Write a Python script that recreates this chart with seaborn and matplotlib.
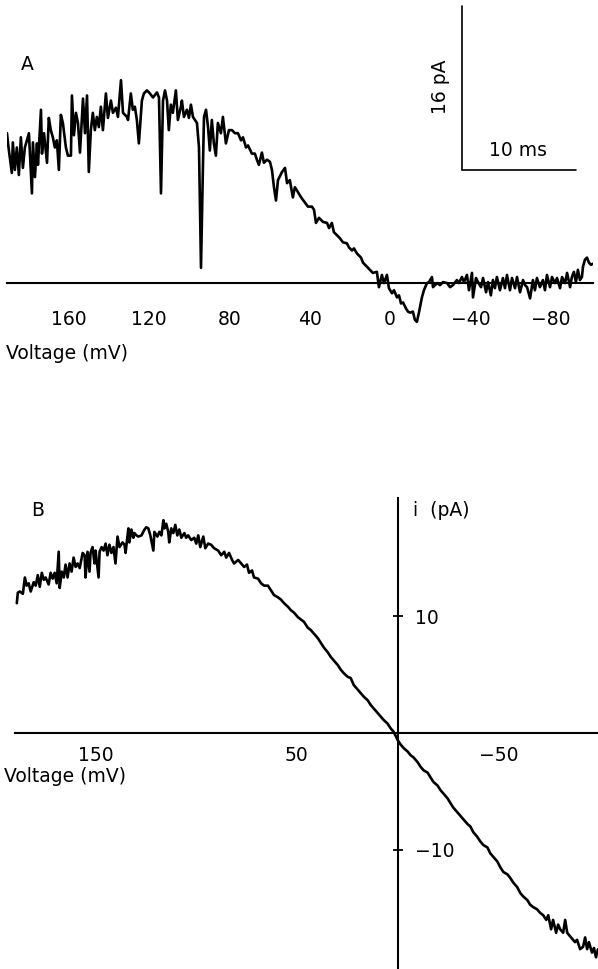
import matplotlib
matplotlib.use("Agg")
import matplotlib.pyplot as plt
import numpy as np
import seaborn as sns
from matplotlib.lines import Line2D

# ---- panel A: current trace during voltage ramp (mV, pA) ----
volt_a = [190.5, 190.0, 188.1, 187.6, 186.6, 185.6, 184.6, 183.6, 182.6, 181.6,
          180.6, 179.6, 178.1, 177.6, 176.6, 175.6, 175.1, 173.6, 173.1, 172.1,
          170.6, 169.7, 168.7, 167.7, 166.7, 165.7, 164.7, 163.7, 162.7, 161.2,
          160.2, 158.7, 158.2, 157.2, 156.2, 155.2, 154.2, 152.7, 151.7, 150.7,
          149.8, 148.8, 147.8, 146.8, 145.8, 144.8, 143.8, 142.8, 141.3, 140.3,
          138.8, 137.8, 136.3, 135.3, 133.8, 132.8, 130.8, 130.3, 128.9, 127.9,
          126.9, 125.9, 124.9, 123.4, 122.4, 120.9, 119.4, 117.9, 115.9, 114.9,
          113.9, 112.9, 111.9, 110.9, 110.0, 109.0, 108.0, 106.5, 105.5, 104.0,
          103.5, 102.5, 101.0, 100.0, 99.0, 98.0, 96.0, 95.0, 94.0, 93.0,
          92.5, 91.5, 90.5, 89.6, 88.6, 87.6, 86.6, 85.6, 84.1, 83.1,
          81.6, 80.1, 78.6, 77.1, 75.6, 74.1, 73.1, 71.6, 70.6, 68.7,
          67.2, 66.2, 65.2, 63.7, 62.7, 61.2, 59.7, 58.7, 57.7, 56.7,
          55.7, 53.7, 52.2, 51.2, 49.8, 48.3, 47.3, 46.3, 44.8, 43.8,
          42.3, 40.8, 38.8, 37.8, 36.8, 35.3, 33.3, 31.3, 30.3, 28.9,
          27.9, 26.4, 24.9, 23.4, 21.4, 20.4, 18.9, 17.9, 16.4, 15.4,
          14.4, 13.4, 11.4, 10.0, 8.5, 6.5, 5.5, 4.0, 3.0, 1.5,
          0.5, -1.0, -2.0, -3.5, -4.5, -5.5, -6.5, -8.0, -9.0, -10.0,
          -11.4, -12.4, -13.4, -14.4, -15.9, -16.9, -18.4, -19.4, -20.9, -21.4,
          -23.4, -24.9, -26.4, -28.4, -29.9, -31.3, -33.3, -34.3, -35.8, -36.8,
          -38.3, -39.3, -40.8, -41.3, -42.8, -43.8, -45.3, -46.3, -47.8, -48.8,
          -50.2, -51.2, -52.2, -53.2, -54.7, -56.2, -57.2, -58.2, -59.7, -60.7,
          -62.2, -63.2, -64.7, -66.2, -67.2, -68.2, -69.7, -71.1, -72.1, -73.1,
          -74.6, -76.1, -77.1, -78.1, -79.6, -80.6, -82.1, -83.1, -84.6, -85.6,
          -87.1, -88.1, -89.6, -90.5, -91.5, -92.5, -93.5, -94.5, -95.5, -96.0,
          -97.0, -98.0, -99.0, -100.0, -101.0]
curr_a = [14.7, 13.7, 10.8, 13.8, 11.1, 13.3, 10.6, 14.3, 11.3, 13.3,
          14.0, 14.7, 8.8, 13.8, 10.4, 13.7, 11.6, 17.0, 12.7, 14.7,
          11.8, 16.2, 15.0, 14.3, 13.3, 14.0, 11.1, 16.5, 15.7, 13.3,
          12.5, 12.5, 18.4, 14.5, 16.7, 15.7, 12.8, 18.1, 14.7, 18.4,
          10.9, 15.0, 16.7, 15.0, 16.3, 15.3, 17.3, 15.0, 18.6, 16.2,
          17.9, 16.7, 17.2, 16.3, 19.9, 16.7, 16.3, 16.0, 18.6, 17.0,
          17.3, 16.0, 13.7, 17.9, 18.6, 18.9, 18.6, 18.2, 18.7, 18.2,
          8.8, 17.9, 18.9, 17.9, 15.0, 17.5, 16.7, 18.9, 16.0, 17.3,
          17.9, 16.3, 17.0, 16.2, 17.5, 16.3, 15.7, 13.3, 1.5, 11.8,
          16.3, 17.0, 15.3, 13.0, 16.0, 13.7, 12.5, 15.7, 14.7, 16.3,
          13.7, 15.0, 15.0, 14.7, 14.7, 14.0, 14.3, 13.3, 13.5, 12.7,
          12.7, 12.1, 11.6, 12.8, 11.8, 12.1, 11.9, 11.1, 9.4, 8.1,
          10.1, 10.9, 11.3, 9.8, 10.1, 8.4, 9.4, 9.1, 8.6, 8.3,
          7.9, 7.5, 7.5, 7.2, 5.9, 6.4, 6.0, 5.9, 5.4, 5.9,
          5.0, 4.7, 4.4, 4.0, 3.9, 3.5, 3.2, 3.4, 2.9, 2.7,
          2.5, 2.0, 1.6, 1.3, 1.0, 1.1, -0.4, 0.8, 0.0, 0.8,
          -0.5, -1.0, -0.7, -1.4, -1.2, -2.0, -1.9, -2.5, -2.8, -2.9,
          -2.8, -3.6, -3.8, -2.9, -1.4, -0.7, 0.0, 0.1, 0.6, -0.4,
          0.0, -0.2, 0.1, 0.0, -0.4, -0.2, 0.3, 0.0, 0.6, 0.1,
          0.8, -0.7, 1.0, -1.4, 0.5, 0.1, -0.4, 0.5, -0.9, 0.1,
          -1.2, 0.3, -0.5, 0.6, -0.7, 0.5, -0.5, 0.8, -0.7, 0.5,
          -0.5, 0.6, -0.9, 0.3, -0.2, -0.4, -1.5, 0.3, -0.7, 0.5,
          -0.4, 0.3, -0.7, 0.8, -0.4, 0.6, 0.0, 0.5, -0.5, 0.6,
          0.0, 1.0, -0.4, 0.6, 1.1, 0.1, 1.3, 0.3, 0.6, 1.6,
          2.3, 2.5, 2.0, 1.8, 1.9]

# ---- panel B: I-V curve (mV, pA) ----
volt_b = [189.1, 188.6, 187.6, 186.1, 185.1, 184.2, 183.2, 182.2, 180.7, 179.7,
          178.7, 177.7, 176.7, 175.7, 174.8, 173.3, 172.3, 171.3, 170.3, 169.3,
          168.3, 167.8, 166.8, 165.8, 164.9, 163.9, 162.9, 161.9, 160.9, 159.9,
          158.9, 157.9, 156.4, 155.4, 155.0, 154.0, 153.0, 152.5, 151.5, 150.5,
          150.0, 148.5, 148.0, 147.0, 146.0, 145.0, 144.1, 143.1, 142.1, 141.1,
          140.1, 139.1, 138.1, 136.6, 135.6, 135.1, 133.7, 133.2, 132.2, 131.2,
          130.7, 129.7, 128.7, 127.2, 125.7, 124.8, 123.8, 122.8, 121.3, 120.8,
          119.3, 118.3, 117.3, 116.3, 115.8, 114.9, 113.9, 113.4, 112.4, 111.4,
          110.4, 109.4, 108.4, 107.4, 105.9, 105.0, 104.0, 102.5, 101.0, 100.0,
          99.0, 98.0, 96.5, 95.5, 94.1, 92.6, 91.1, 89.1, 87.6, 86.1,
          85.1, 83.7, 82.2, 81.2, 79.2, 77.7, 76.2, 74.8, 73.8, 72.3,
          71.3, 69.3, 67.8, 66.3, 64.4, 62.9, 61.4, 59.4, 57.9, 56.4,
          54.5, 53.0, 51.5, 49.5, 48.0, 46.5, 44.6, 43.1, 41.6, 39.6,
          38.1, 36.6, 34.7, 33.2, 31.7, 29.7, 28.2, 26.7, 24.8, 23.3,
          21.8, 19.8, 18.3, 16.8, 14.9, 13.4, 11.9, 9.9, 8.4, 6.9,
          5.0, 3.5, 2.0, 0.0, -1.5, -3.0, -5.0, -6.4, -7.9, -9.9,
          -11.4, -12.9, -14.9, -16.3, -17.8, -19.8, -21.3, -22.8, -24.8, -26.2,
          -27.7, -29.7, -31.2, -32.7, -34.7, -36.1, -37.6, -39.6, -41.1, -42.6,
          -44.6, -46.0, -47.5, -49.5, -51.0, -52.5, -54.5, -55.9, -57.4, -59.4,
          -60.9, -62.4, -64.4, -65.8, -67.3, -69.3, -70.8, -72.3, -73.8, -74.8,
          -76.2, -77.2, -78.7, -79.7, -80.7, -82.2, -83.2, -84.2, -85.6, -87.1,
          -88.1, -89.1, -90.6, -92.1, -93.1, -94.1, -95.0, -96.5, -97.5, -98.5,
          -99.5]
curr_b = [11.1, 12.0, 12.1, 11.9, 13.3, 12.6, 12.8, 12.1, 12.9, 12.6,
          13.5, 12.5, 13.7, 13.1, 13.3, 12.7, 13.7, 13.2, 13.7, 12.8,
          15.5, 12.4, 13.8, 13.3, 14.4, 13.3, 14.5, 13.8, 15.0, 14.2,
          14.5, 14.1, 15.4, 15.2, 13.3, 15.5, 13.8, 15.4, 15.9, 14.5,
          15.6, 13.3, 15.5, 15.9, 15.6, 16.2, 15.2, 16.1, 15.4, 15.9,
          14.5, 16.8, 15.9, 16.3, 16.1, 15.4, 17.5, 16.3, 17.4, 16.7,
          17.1, 16.9, 16.8, 16.9, 17.4, 17.6, 17.5, 16.9, 15.6, 17.2,
          16.8, 17.2, 16.9, 18.2, 17.5, 17.9, 17.2, 16.3, 17.5, 17.1,
          17.8, 16.9, 17.4, 16.7, 17.1, 16.7, 16.9, 16.5, 16.7, 16.2,
          16.9, 15.9, 16.8, 15.8, 16.2, 16.1, 15.8, 15.6, 15.2, 15.5,
          15.0, 15.4, 14.8, 14.5, 14.8, 14.5, 14.2, 14.4, 13.7, 13.9,
          13.3, 13.2, 12.8, 12.6, 12.6, 12.2, 11.8, 11.6, 11.4, 11.1,
          10.8, 10.5, 10.3, 9.9, 9.7, 9.5, 9.0, 8.8, 8.5, 8.1,
          7.7, 7.3, 6.9, 6.5, 6.2, 5.8, 5.4, 5.1, 4.8, 4.7,
          4.1, 3.7, 3.4, 3.1, 2.8, 2.4, 2.1, 1.7, 1.4, 1.1,
          0.8, 0.4, 0.1, -0.6, -1.0, -1.3, -1.6, -1.9, -2.1, -2.5,
          -2.9, -3.2, -3.4, -3.8, -4.2, -4.5, -4.9, -5.2, -5.6, -6.0,
          -6.4, -6.8, -7.1, -7.4, -7.8, -8.0, -8.5, -8.9, -9.3, -9.6,
          -9.8, -10.3, -10.6, -11.0, -11.5, -11.9, -12.1, -12.4, -12.8, -13.2,
          -13.7, -14.0, -14.3, -14.7, -14.9, -15.1, -15.4, -15.6, -16.0, -15.6,
          -16.8, -16.0, -17.1, -16.4, -16.8, -17.1, -16.0, -17.1, -17.4, -17.7,
          -17.9, -17.7, -18.5, -18.3, -17.5, -18.5, -17.9, -18.8, -18.4, -19.2,
          -18.5]

a_major = [160, 120, 80, 40, 0, -40, -80]
a_minor = [180, 140, 100, 60, 20, -20, -60, -100]
b_ticks = [190, 170, 150, 130, 110, 90, 70, 50, 30, 10, -10, -30, -50, -70, -90]
b_labels = {150: "150", 50: "50", -50: "\u221250"}
b_yticks = [10, -10]

sns.set_theme(style="white")
plt.rcParams['font.family'] = ['DejaVu Sans']
plt.rcParams['text.color'] = 'black'
plt.rcParams['xtick.color'] = 'black'
plt.rcParams['ytick.color'] = 'black'
plt.rcParams['xtick.labelcolor'] = 'black'
plt.rcParams['ytick.labelcolor'] = 'black'

W, H = 598, 969
fig = plt.figure(figsize=(W / 100, H / 100), dpi=100)


def box(l, t, r, b):
    return [l / W, 1 - b / H, (r - l) / W, (b - t) / H]


def fx(x):
    return x / W


def fy(y):
    return 1 - y / H


FS = 13.5

# ---------------- panel A ----------------
axA = fig.add_axes(box(7, 70, 593, 330))
sns.lineplot(x=volt_a, y=curr_a, ax=axA, color="black", lw=1.9,
             sort=False, estimator=None)
axA.set_xlim(190.5, -101)
axA.set_ylim(-4.6, 20.9)
for s in ["top", "left", "right"]:
    axA.spines[s].set_visible(False)
axA.spines["bottom"].set_position(("data", 0))
axA.spines["bottom"].set_linewidth(1.5)
axA.spines["bottom"].set_color("black")
axA.set_yticks([])
axA.set_xticks(a_major)
axA.set_xticklabels([str(v).replace("-", "\u2212") for v in a_major])
axA.set_xticks(a_minor, minor=True)
axA.tick_params(axis="x", which="major", direction="inout", length=17,
                width=1.5, color="black", pad=11, labelsize=FS, labelcolor="black")
axA.tick_params(axis="x", which="minor", direction="inout", length=12,
                width=1.5, color="black")
axA.set_xlabel("")
axA.set_ylabel("")
axA.patch.set_alpha(0)

fig.text(fx(27), fy(65), "A", fontsize=FS, ha="center", va="center", color="black")
fig.text(fx(6), fy(353), "Voltage (mV)", fontsize=FS, ha="left", va="center", color="black")

# scale bar
fig.add_artist(Line2D([fx(462), fx(462)], [fy(6), fy(170)], color="black", lw=1.2))
fig.add_artist(Line2D([fx(462), fx(576)], [fy(170), fy(170)], color="black", lw=1.2))
fig.text(fx(440), fy(87), "16 pA", fontsize=FS, rotation=90, ha="center", va="center",
         color="black")
fig.text(fx(518), fy(150), "10 ms", fontsize=FS, ha="center", va="center", color="black")

# ---------------- panel B ----------------
axB = fig.add_axes(box(15, 498, 598, 969))
sns.lineplot(x=volt_b, y=curr_b, ax=axB, color="black", lw=1.9,
             sort=False, estimator=None)
axB.set_xlim(189.1, -99.5)
axB.set_ylim(-20.2, 20.1)
axB.spines["top"].set_visible(False)
axB.spines["left"].set_visible(False)
axB.spines["right"].set_position(("data", 0))
axB.spines["bottom"].set_position(("data", 0))
for s in ["right", "bottom"]:
    axB.spines[s].set_linewidth(1.5)
    axB.spines[s].set_color("black")
axB.yaxis.tick_right()
axB.set_yticks(b_yticks)
axB.set_yticklabels([str(v).replace("-", "\u2212") for v in b_yticks])
axB.set_xticks(b_ticks)
axB.set_xticklabels([b_labels.get(v, "") for v in b_ticks])
axB.tick_params(axis="x", direction="inout", length=7, width=1.3,
                color="black", pad=6, labelsize=FS, labelcolor="black")
axB.tick_params(axis="y", direction="inout", length=7, width=1.3,
                color="black", pad=9, labelsize=FS, labelcolor="black")
axB.set_xlabel("")
axB.set_ylabel("")
axB.patch.set_alpha(0)

fig.text(fx(38), fy(511), "B", fontsize=FS, ha="center", va="center", color="black")
fig.text(fx(413), fy(510), "i  (pA)", fontsize=FS, ha="left", va="center", color="black")
fig.text(fx(4), fy(777), "Voltage (mV)", fontsize=FS, ha="left", va="center", color="black")

fig.savefig("out.png", dpi=100)
